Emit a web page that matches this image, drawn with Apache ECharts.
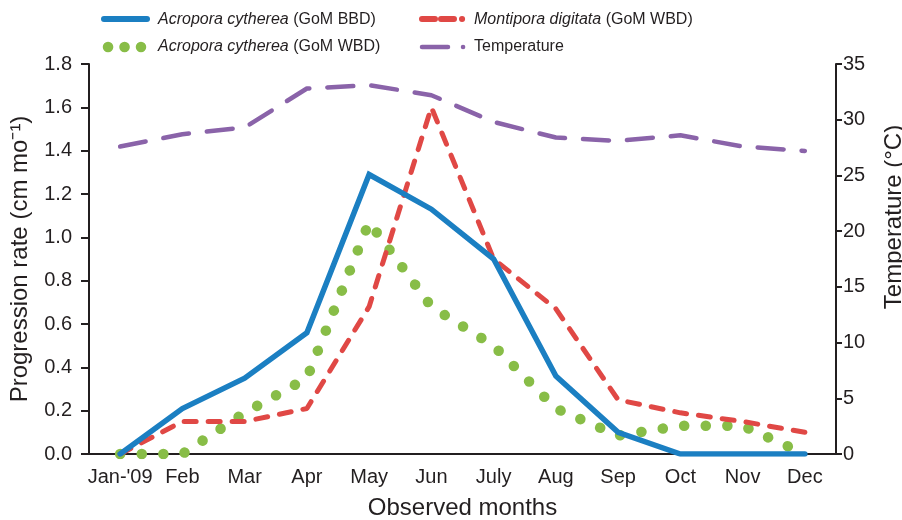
<!DOCTYPE html>
<html>
<head>
<meta charset="utf-8">
<script src="https://cdn.jsdelivr.net/npm/echarts@6/dist/echarts.min.js"></script>
<style>
  html, body { margin: 0; padding: 0; background: #fff; }
  #chart { width: 902px; height: 520px; }
</style>
</head>
<body>
<div id="chart"></div>
<script>
// Monthly observations, January to December 2009
const months = ["Jan-'09", 'Feb', 'Mar', 'Apr', 'May', 'Jun', 'July', 'Aug', 'Sep', 'Oct', 'Nov', 'Dec'];

// Progression rates (cm per month)
const acroporaBBD = [0, 0.21, 0.35, 0.56, 1.29, 1.13, 0.90, 0.36, 0.10, 0, 0, 0];
const acroporaWBD = [0, 0, 0.19, 0.35, 1.07, 0.68, 0.50, 0.21, 0.085, 0.13, 0.13, 0];
const montiporaWBD = [0, 0.15, 0.15, 0.21, 0.68, 1.60, 0.90, 0.67, 0.25, 0.19, 0.15, 0.10];

// Monthly seawater temperature (°C)
const temperature = [27.6, 28.7, 29.3, 32.8, 33.1, 32.2, 29.8, 28.4, 28.1, 28.6, 27.6, 27.2];

const TEXT = '#231f20';
const FONT = '"Liberation Sans", Arial, Helvetica, sans-serif';
const COLORS = { bbd: '#1b7fc2', wbd: '#88bd47', monti: '#e04845', temp: '#8a63a9' };

const chart = echarts.init(document.getElementById('chart'), null, { renderer: 'canvas' });

const legendText = (species, site) => ({
  type: 'text',
  style: {
    text: '{i|' + species + '} ' + site,
    fontFamily: FONT,
    fontSize: 16,
    fill: TEXT,
    verticalAlign: 'middle',
    rich: { i: { fontStyle: 'italic', fontFamily: FONT, fontSize: 16, fill: TEXT } }
  }
});

const option = {
  animation: false,
  backgroundColor: '#fff',
  textStyle: { fontFamily: FONT, color: TEXT },
  grid: { left: 89, right: 66, top: 64, bottom: 66, containLabel: false, outerBoundsMode: 'none' },
  xAxis: {
    type: 'category',
    data: months,
    boundaryGap: true,
    name: 'Observed months',
    nameLocation: 'middle',
    nameGap: 42,
    nameTextStyle: { fontSize: 24, color: TEXT, fontFamily: FONT },
    axisLine: { lineStyle: { color: TEXT, width: 2 } },
    axisTick: { show: false },
    axisLabel: { color: TEXT, fontSize: 20, margin: 13, fontFamily: FONT, interval: 0 },
    splitLine: { show: false }
  },
  yAxis: [
    {
      type: 'value',
      min: 0, max: 1.8, interval: 0.2,
      name: 'Progression rate (cm mo\u207B\u00B9)',
      nameLocation: 'middle',
      nameRotate: 90,
      nameGap: 57,
      nameTextStyle: { fontSize: 24, color: TEXT, fontFamily: FONT },
      axisLine: { show: true, lineStyle: { color: TEXT, width: 2 } },
      axisTick: { show: true, length: 8, lineStyle: { color: TEXT, width: 2 } },
      axisLabel: { color: TEXT, fontSize: 20, margin: 17, fontFamily: FONT, formatter: v => v.toFixed(1) },
      splitLine: { show: false }
    },
    {
      type: 'value',
      position: 'right',
      min: 0, max: 35, interval: 5,
      name: 'Temperature (°C)',
      nameLocation: 'middle',
      nameRotate: 90,
      nameGap: 46,
      nameTextStyle: { fontSize: 24, color: TEXT, fontFamily: FONT, padding: [0, 0, 0, 84] },
      axisLine: { show: true, lineStyle: { color: TEXT, width: 2 } },
      axisTick: { show: true, length: 6, lineStyle: { color: TEXT, width: 2 } },
      axisLabel: { color: TEXT, fontSize: 20, margin: 7, fontFamily: FONT },
      splitLine: { show: false }
    }
  ],
  series: [
    {
      name: 'Temperature',
      type: 'line',
      yAxisIndex: 1,
      data: temperature,
      showSymbol: false,
      z: 1,
      lineStyle: { color: COLORS.temp, width: 4.5, type: [26, 18], cap: 'round' }
    },
    {
      name: 'Acropora cytherea (GoM WBD)',
      type: 'line',
      data: acroporaWBD,
      showSymbol: false,
      z: 2,
      lineStyle: { color: COLORS.wbd, width: 10.5, type: [0.1, 21.5], cap: 'round' }
    },
    {
      name: 'Montipora digitata (GoM WBD)',
      type: 'line',
      data: montiporaWBD,
      showSymbol: false,
      z: 3,
      lineStyle: { color: COLORS.monti, width: 5, type: [12, 12], cap: 'round' }
    },
    {
      name: 'Acropora cytherea (GoM BBD)',
      type: 'line',
      data: acroporaBBD,
      showSymbol: false,
      z: 4,
      lineStyle: { color: COLORS.bbd, width: 5.5, cap: 'round', join: 'miter' }
    }
  ],
  graphic: [
    // legend, first column
    { type: 'line', shape: { x1: 104, y1: 19, x2: 147, y2: 19 },
      style: { stroke: COLORS.bbd, lineWidth: 6, lineCap: 'round' } },
    Object.assign(legendText('Acropora cytherea', '(GoM BBD)'), { x: 158, y: 20 }),
    { type: 'line', shape: { x1: 108, y1: 47, x2: 141, y2: 47 },
      style: { stroke: COLORS.wbd, lineWidth: 10.5, lineCap: 'round', lineDash: [0.1, 16.4] } },
    Object.assign(legendText('Acropora cytherea', '(GoM WBD)'), { x: 158, y: 47 }),
    // legend, second column
    { type: 'line', shape: { x1: 422, y1: 19, x2: 466, y2: 19 },
      style: { stroke: COLORS.monti, lineWidth: 6, lineCap: 'round', lineDash: [13, 6, 13, 8, 0.1, 20] } },
    Object.assign(legendText('Montipora digitata', '(GoM WBD)'), { x: 474, y: 20 }),
    { type: 'line', shape: { x1: 422, y1: 47, x2: 466, y2: 47 },
      style: { stroke: COLORS.temp, lineWidth: 4.5, lineCap: 'round', lineDash: [26, 15, 0.1, 20] } },
    { type: 'text', x: 474, y: 47,
      style: { text: 'Temperature', fontFamily: FONT, fontSize: 16, fill: TEXT, verticalAlign: 'middle' } }
  ]
};

chart.setOption(option);
</script>
</body>
</html>
